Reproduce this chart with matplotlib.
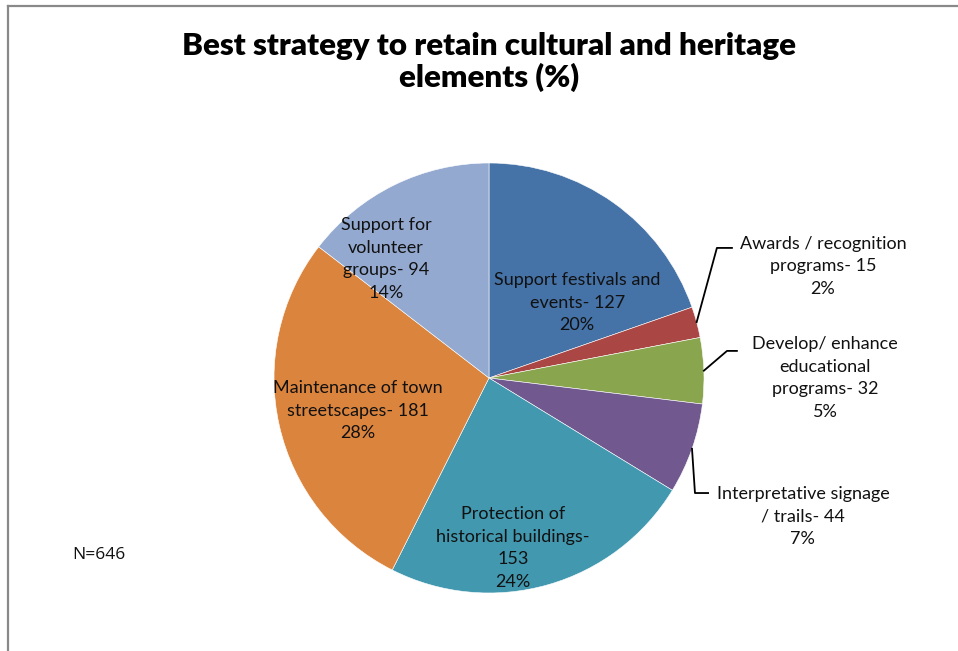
import numpy as np
import matplotlib
matplotlib.use("Agg")
import matplotlib.pyplot as plt
from matplotlib.lines import Line2D

categories = [
    "Support festivals and\nevents- 127",
    "Awards / recognition\nprograms- 15",
    "Develop/ enhance\neducational\nprograms- 32",
    "Interpretative signage\n/ trails- 44",
    "Protection of\nhistorical buildings-\n153",
    "Maintenance of town\nstreetscapes- 181",
    "Support for\nvolunteer\ngroups- 94",
]
counts = [127, 15, 32, 44, 153, 181, 94]
percents = [20, 2, 5, 7, 24, 28, 14]
colors = ["#4572A7", "#AA4643", "#89A54E", "#71588F", "#4198AF", "#DB843D", "#93A9CF"]

# label centres in pie units (radius = 1)
label_pos = [(0.41, 0.35), (1.553, 0.52), (1.563, 0.0), (1.46, -0.645),
             (0.112, -0.79), (-0.609, -0.153), (-0.479, 0.553)]
# leader lines for the outside labels: elbow point and end point
leaders = {
    1: [(1.06, 0.605), (1.13, 0.605)],
    2: [(1.107, 0.126), (1.153, 0.126)],
    3: [(0.958, -0.535), (1.019, -0.535)],
}

W, H = 958, 651
fig = plt.figure(figsize=(W / 100, H / 100), dpi=100)

cx, cy, r = 489, 378, 215
ax = fig.add_axes([(cx - r) / W, 1 - (cy + r) / H, 2 * r / W, 2 * r / H])
wedges, _ = ax.pie(counts, colors=colors, startangle=90, counterclock=False,
                   radius=1, wedgeprops=dict(edgecolor="white", linewidth=0.4))
ax.set_xlim(-1, 1)
ax.set_ylim(-1, 1)
ax.set_aspect("equal")
ax.axis("off")

lab_font = "Lato"
for i, w in enumerate(wedges):
    txt = categories[i] + "\n" + str(percents[i]) + "%"
    x, y = label_pos[i]
    ax.text(x, y, txt, ha="center", va="center", fontsize=13, family=lab_font,
            color="#111111", linespacing=1.5)
    if i in leaders:
        mid = np.deg2rad((w.theta1 + w.theta2) / 2)
        pts = [(np.cos(mid), np.sin(mid))] + leaders[i]
        xs, ys = zip(*pts)
        ax.plot(xs, ys, color="black", linewidth=1.3, clip_on=False)

fig.text(489 / W, 1 - 62 / H, "Best strategy to retain cultural and heritage\nelements (%)",
         ha="center", va="center", fontsize=22.5, fontweight="heavy", family=lab_font,
         linespacing=1.15)

fig.text(72 / W, 1 - 555 / H, "N=646", ha="left", va="center", fontsize=12.5,
         family="Open Sans", color="#111111")

# chart frame: top and left edges
fig.add_artist(Line2D([8 / W, 1], [1 - 5.5 / H, 1 - 5.5 / H], color="#898989", linewidth=1.6))
fig.add_artist(Line2D([8 / W, 8 / W], [0, 1 - 5.5 / H], color="#898989", linewidth=1.6))

fig.savefig("out.png", dpi=100)
